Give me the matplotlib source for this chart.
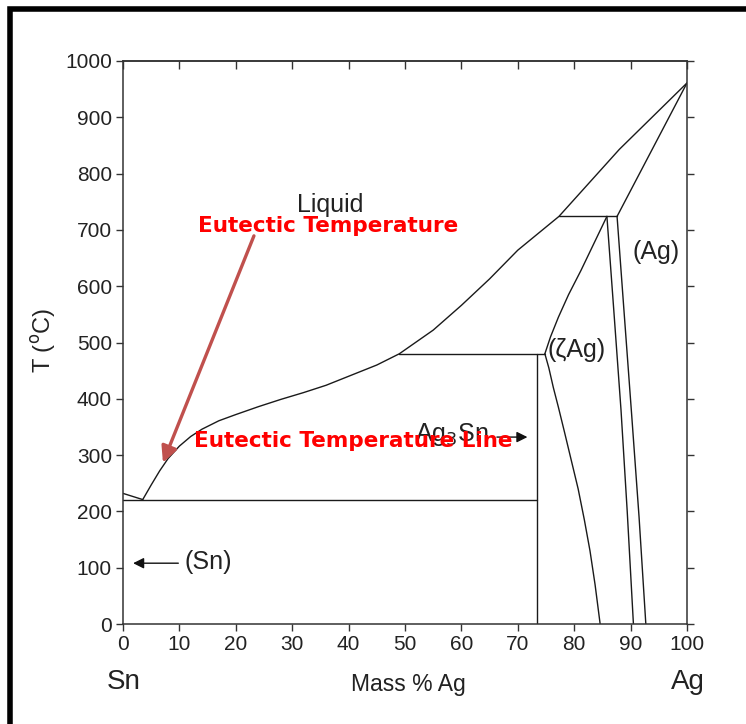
import matplotlib
matplotlib.use("Agg")
import matplotlib.pyplot as plt
from matplotlib.patches import Rectangle

plt.rcParams['font.family'] = ['Liberation Sans', 'DejaVu Sans']

# ---- data (wt% Ag, T in °C) ----
liq_sn_x = [0, 3.5]
liq_sn_t = [232, 221]
liquidus_x = [3.5, 5, 6.5, 8, 10, 12, 14, 17, 20, 24, 28, 32, 36, 40, 45, 49, 55, 60, 65, 70, 77.3, 88, 100]
liquidus_t = [221, 247, 272, 294, 316, 333, 346, 361, 372, 386, 399, 411, 424, 440, 460, 480, 522, 566, 613, 664, 724, 843, 961]
ag_solidus_x = [87.6, 100]
ag_solidus_t = [724, 961]
peritectic724_x = [77.3, 87.6]
peritectic724_t = [724, 724]
peritectic480_x = [49, 74.8]
peritectic480_t = [480, 480]
eutectic_x = [0, 73.4]
eutectic_t = [221, 221]
ag3sn_x = [73.4, 73.4]
ag3sn_t = [0, 480]
zeta_left_x = [85.8, 83.5, 81.2, 79.0, 77.2, 75.8, 74.8]
zeta_left_t = [724, 676, 628, 585, 545, 510, 480]
zeta_low_x = [74.8, 75.5, 76.3, 77.2, 78.3, 79.5, 80.7, 81.8, 82.8, 83.7, 84.6]
zeta_low_t = [480, 455, 420, 385, 340, 290, 240, 185, 130, 70, 0]
zeta_right_x = [85.8, 87.0, 88.3, 89.4, 90.5]
zeta_right_t = [724, 560, 380, 200, 0]
ag_right_x = [87.6, 88.8, 90.2, 91.5, 92.7]
ag_right_t = [724, 560, 370, 190, 0]

xticks = [0, 10, 20, 30, 40, 50, 60, 70, 80, 90, 100]
yticks = [0, 100, 200, 300, 400, 500, 600, 700, 800, 900, 1000]

fig = plt.figure(figsize=(7.46, 7.24), dpi=100)
ax = fig.add_axes([123/746, 1-624/724, (687-123)/746, (624-61)/724])

lc = '#1a1a1a'
lw = 1.0
for xs, ts in [(liq_sn_x, liq_sn_t), (liquidus_x, liquidus_t), (ag_solidus_x, ag_solidus_t),
               (peritectic724_x, peritectic724_t), (peritectic480_x, peritectic480_t),
               (eutectic_x, eutectic_t), (ag3sn_x, ag3sn_t), (zeta_left_x, zeta_left_t),
               (zeta_low_x, zeta_low_t), (zeta_right_x, zeta_right_t), (ag_right_x, ag_right_t)]:
    ax.plot(xs, ts, color=lc, lw=lw, solid_capstyle='round', solid_joinstyle='round')

ax.set_xlim(0, 100)
ax.set_ylim(0, 1000)
ax.set_xticks(xticks)
ax.set_yticks(yticks)
ax.tick_params(axis='both', labelsize=15, color='#333333', width=1.0, length=5, direction='out', pad=3,
               labelcolor='#222222')
ax.yaxis.set_ticks_position('both')
ax.tick_params(axis='y', right=True, labelright=False)

# top ticks pointing inward
secx = ax.secondary_xaxis('top')
secx.set_xticks(xticks)
secx.tick_params(direction='in', length=6, width=1.0, color='#333333', labeltop=False)
secx.spines['top'].set_color('#333333')
secx.spines['top'].set_linewidth(1.1)

for sp in ax.spines.values():
    sp.set_color('#333333')
    sp.set_linewidth(1.1)

txt = '#222222'
fs_in = 18
# annotations
ax.text(36.7, 744, 'Liquid', fontsize=fs_in, ha='center', va='center', color=txt)
ax.text(94.6, 660, '(Ag)', fontsize=fs_in, ha='center', va='center', color=txt)
ax.text(75.3, 487, '(ζAg)', fontsize=fs_in, ha='left', va='center', color=txt)
ax.text(58.3, 337, 'Ag$_3$Sn', fontsize=fs_in, ha='center', va='center', color=txt)
ax.annotate('', xy=(72.2, 332), xytext=(65.8, 332),
            arrowprops=dict(arrowstyle='-|>', color='#111111', lw=1.0, mutation_scale=16))
ax.text(15.2, 110, '(Sn)', fontsize=fs_in, ha='center', va='center', color=txt)
ax.annotate('', xy=(1.3, 108), xytext=(10.3, 108),
            arrowprops=dict(arrowstyle='-|>', color='#111111', lw=1.0, mutation_scale=16))

# red annotations
ax.annotate('', xy=(6.9, 282), xytext=(23.4, 694),
            arrowprops=dict(arrowstyle='-|>', color='#c0504d', lw=2.4, mutation_scale=24))
ax.text(36.3, 707, 'Eutectic Temperature', fontsize=15.5, fontweight='bold', family='DejaVu Sans',
        color='#ff0000', ha='center', va='center')
ax.text(40.8, 325, 'Eutectic Temperature Line', fontsize=15.5, fontweight='bold', family='DejaVu Sans',
        color='#ff0000', ha='center', va='center')

# axis labels
fig.text(44/746, 1-340/724, 'T ($^{\\mathrm{o}}$C)', rotation=90, fontsize=17, ha='center', va='center',
         color=txt)
fig.text(408/746, 1-684/724, 'Mass % Ag', fontsize=16.5, ha='center', va='center', color=txt)
fig.text(124/746, 1-682/724, 'Sn', fontsize=20, ha='center', va='center', color=txt)
fig.text(688/746, 1-682/724, 'Ag', fontsize=20, ha='center', va='center', color=txt)

# black frame (top and left visible)
fig.patches.append(Rectangle((9.5/746, -0.1), 1.2, 1.1 - 9.5/724, transform=fig.transFigure,
                             fill=False, edgecolor='black', linewidth=4))

fig.savefig('out.png', dpi=100)
